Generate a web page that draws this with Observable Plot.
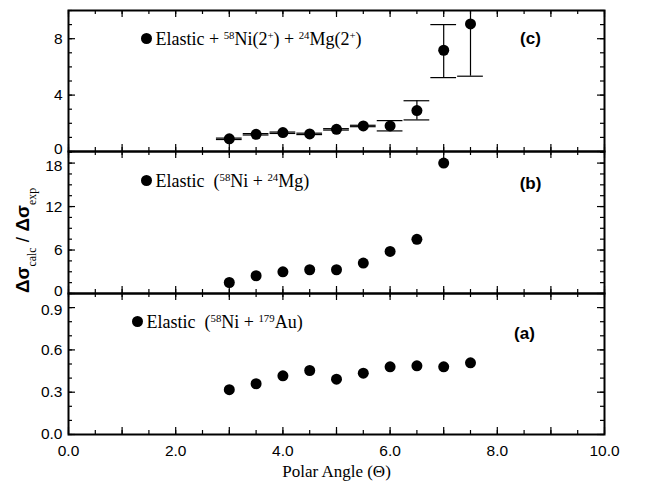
<!DOCTYPE html>
<html>
<head>
<meta charset="utf-8">
<script src="https://cdn.jsdelivr.net/npm/d3@7"></script>
<script src="https://cdn.jsdelivr.net/npm/@observablehq/plot@0.6"></script>
<style>
  html, body { margin: 0; padding: 0; background: #fff; }
  #chart { position: relative; width: 650px; height: 482px; overflow: hidden; }
  #chart svg { position: absolute; left: 0; overflow: visible; }
  .serif-text { font-family: "Liberation Serif", "DejaVu Serif", "Times New Roman", serif !important; }
</style>
</head>
<body>
<div id="chart"></div>
<script>
// ---------- data ----------
const angles = [3.0, 3.5, 4.0, 4.5, 5.0, 5.5, 6.0, 6.5, 7.0, 7.5];
// panel (c): Elastic + 58Ni(2+) + 24Mg(2+)
const ratioC   = [0.90, 1.22, 1.34, 1.25, 1.57, 1.81, 1.81, 2.90, 7.18, 9.05];
const errLowC  = [0.85, 1.17, 1.28, 1.20, 1.52, 1.76, 1.46, 2.24, 5.24, 5.34];
const errHighC = [0.95, 1.27, 1.38, 1.30, 1.62, 1.86, 2.19, 3.60, 9.00, 12.8];
// panel (b): Elastic (58Ni + 24Mg)
const anglesB = [3.0, 3.5, 4.0, 4.5, 5.0, 5.5, 6.0, 6.5, 7.0];
const ratioB  = [1.52, 2.45, 3.00, 3.28, 3.28, 4.20, 5.80, 7.48, 18.0];
// panel (a): Elastic (58Ni + 179Au)
const ratioA  = [0.318, 0.360, 0.416, 0.454, 0.392, 0.435, 0.480, 0.487, 0.480, 0.508];

const xTickLabels = [0, 2, 4, 6, 8, 10];
const yTicksC = [0, 4, 8];
const yTicksB = [0, 6, 12, 18];
const yTicksA = [0, 0.3, 0.6, 0.9];

// ---------- styling ----------
const sans = "Liberation Sans, Arial, Helvetica, sans-serif";
const serif = "Liberation Serif, DejaVu Serif, Times New Roman, serif";
const W = 650, ML = 68, MR = 46, frameW = W - ML - MR;
const capHalf = 0.24;

function tickMarks(frameH, yMinor, yMajor) {
  const xMinor = d3.range(0, 10.001, 0.5);
  const xMajor = d3.range(0, 10.001, 1);
  const sw = 1.2;
  return [
    Plot.tickX(xMinor, {x: d => d, insetTop: frameH - 4, strokeWidth: sw}),
    Plot.tickX(xMinor, {x: d => d, insetBottom: frameH - 4, strokeWidth: sw}),
    Plot.tickX(xMajor, {x: d => d, insetTop: frameH - 7, strokeWidth: sw}),
    Plot.tickX(xMajor, {x: d => d, insetBottom: frameH - 7, strokeWidth: sw}),
    Plot.tickY(yMinor, {y: d => d, insetRight: frameW - 4, strokeWidth: sw}),
    Plot.tickY(yMinor, {y: d => d, insetLeft: frameW - 4, strokeWidth: sw}),
    Plot.tickY(yMajor, {y: d => d, insetRight: frameW - 7, strokeWidth: sw}),
    Plot.tickY(yMajor, {y: d => d, insetLeft: frameW - 7, strokeWidth: sw})
  ];
}

// y tick labels; the extreme labels are nudged apart where two panels meet
function yAxis(ticks, fmt, topShift, zeroShift) {
  const top = ticks[ticks.length - 1];
  const mid = ticks.filter(t => t !== 0 && t !== top);
  const opts = {tickSize: 0, tickPadding: 6, tickFormat: fmt, fontSize: 15.5, fontFamily: sans, label: null};
  return [
    Plot.axisY(mid, opts),
    Plot.axisY([top], {...opts, dy: topShift}),
    Plot.axisY([0], {...opts, dy: zeroShift})
  ];
}

function richify(svg, plain, parts, serifWhole) {
  d3.select(svg).selectAll("text").filter(function () { return this.textContent === plain; }).each(function () {
    const t = d3.select(this);
    if (serifWhole) t.classed("serif-text", true);
    t.text(null);
    parts.forEach(([s, mode, font]) => {
      const ts = t.append("tspan").text(s);
      if (mode === "sup") ts.attr("baseline-shift", "super").style("font-size", "0.6em");
      if (mode === "sub") ts.attr("baseline-shift", "sub").style("font-size", "0.62em");
      if (mode === "bold") ts.style("font-weight", "bold");
      if (font === "serif") ts.classed("serif-text", true);
    });
  });
}

const chart = document.getElementById("chart");

// ---------- panel (c) ----------
const dataC = angles.map((x, i) => ({x, y: ratioC[i], lo: errLowC[i], hi: errHighC[i]}));
const hC = 141;
const legendC = "Elastic + 58Ni(2+) + 24Mg(2+)";
const svgC = Plot.plot({
  width: W, height: 10 + hC + 10,
  marginLeft: ML, marginRight: MR, marginTop: 10, marginBottom: 10,
  x: {domain: [0, 10], axis: null},
  y: {domain: [0, 10], axis: null},
  style: {background: "transparent", overflow: "visible"},
  marks: [
    ...tickMarks(hC, d3.range(0, 10.001, 1), yTicksC),
    ...yAxis(yTicksC, d3.format("d"), 0, -2.5),
    Plot.ruleX(dataC, {x: "x", y1: "lo", y2: "hi", strokeWidth: 1.2, clip: true}),
    Plot.ruleY(dataC, {y: "lo", x1: d => d.x - capHalf, x2: d => d.x + capHalf, strokeWidth: 1.2, clip: true}),
    Plot.ruleY(dataC, {y: "hi", x1: d => d.x - capHalf, x2: d => d.x + capHalf, strokeWidth: 1.2, clip: true}),
    Plot.dot(dataC, {x: "x", y: "y", r: 5.5, fill: "black"}),
    Plot.dot([legendC], {frameAnchor: "top-left", dx: 78, dy: 28, r: 5.5, fill: "black"}),
    Plot.text([legendC], {text: d => d, frameAnchor: "top-left", dx: 87, dy: 29, textAnchor: "start", lineAnchor: "middle", fontSize: 18, fontFamily: serif}),
    Plot.text(["(c)"], {text: d => d, frameAnchor: "top-right", dx: -74, dy: 28, textAnchor: "middle", lineAnchor: "middle", fontSize: 17, fontWeight: "bold", fontFamily: sans}),
    Plot.frame({strokeWidth: 2})
  ]
});
svgC.style.top = "0px";
richify(svgC, legendC, [["Elastic + "], ["58", "sup"], ["Ni(2"], ["+", "sup"], [") + "], ["24", "sup"], ["Mg(2"], ["+", "sup"], [")"]], true);

// ---------- panel (b) ----------
const dataB = anglesB.map((x, i) => ({x, y: ratioB[i]}));
const hB = 142;
const legendB = "Elastic\u2002(58Ni + 24Mg)";
const yTitle = "Δσcalc / Δσexp";
const svgB = Plot.plot({
  width: W, height: 10 + hB + 10,
  marginLeft: ML, marginRight: MR, marginTop: 10, marginBottom: 10,
  x: {domain: [0, 10], axis: null},
  y: {domain: [0, 19.6], axis: null},
  style: {background: "transparent", overflow: "visible"},
  marks: [
    ...tickMarks(hB, d3.range(0, 19.6, 1.5), yTicksB),
    ...yAxis(yTicksB, d3.format("d"), 3, -2),
    Plot.dot(dataB, {x: "x", y: "y", r: 5.5, fill: "black"}),
    Plot.dot([legendB], {frameAnchor: "top-left", dx: 78, dy: 29, r: 5.5, fill: "black"}),
    Plot.text([legendB], {text: d => d, frameAnchor: "top-left", dx: 87, dy: 30, textAnchor: "start", lineAnchor: "middle", fontSize: 18, fontFamily: serif}),
    Plot.text(["(b)"], {text: d => d, frameAnchor: "top-right", dx: -74, dy: 32, textAnchor: "middle", lineAnchor: "middle", fontSize: 17, fontWeight: "bold", fontFamily: sans}),
    Plot.text([yTitle], {text: d => d, frameAnchor: "left", dx: -46, dy: 18, rotate: -90, textAnchor: "middle", lineAnchor: "middle", fontSize: 19, fontFamily: sans}),
    Plot.frame({strokeWidth: 2})
  ]
});
svgB.style.top = "141px";
richify(svgB, legendB, [["Elastic\u2002("], ["58", "sup"], ["Ni + "], ["24", "sup"], ["Mg)"]], true);
richify(svgB, yTitle, [["Δσ", "bold"], ["calc", "sub", "serif"], [" / "], ["Δσ", "bold"], ["exp", "sub", "serif"]], false);

// ---------- panel (a) ----------
const dataA = angles.map((x, i) => ({x, y: ratioA[i]}));
const hA = 141;
const legendA = "Elastic\u2002(58Ni + 179Au)";
const xTitle = "Polar Angle (Θ)";
const svgA = Plot.plot({
  width: W, height: 10 + hA + 48,
  marginLeft: ML, marginRight: MR, marginTop: 10, marginBottom: 48,
  x: {domain: [0, 10], axis: null},
  y: {domain: [0, 1.0], axis: null},
  style: {background: "transparent", overflow: "visible"},
  marks: [
    ...tickMarks(hA, d3.range(0, 1.0001, 0.1), yTicksA),
    ...yAxis(yTicksA, d3.format(".1f"), 2, 0),
    Plot.axisX(xTickLabels, {tickSize: 0, tickPadding: 10, tickFormat: d3.format(".1f"), fontSize: 15.5, fontFamily: sans, label: null}),
    Plot.dot(dataA, {x: "x", y: "y", r: 5.5, fill: "black"}),
    Plot.dot([legendA], {frameAnchor: "top-left", dx: 69, dy: 28, r: 5.5, fill: "black"}),
    Plot.text([legendA], {text: d => d, frameAnchor: "top-left", dx: 78, dy: 29, textAnchor: "start", lineAnchor: "middle", fontSize: 18, fontFamily: serif}),
    Plot.text(["(a)"], {text: d => d, frameAnchor: "top-right", dx: -80, dy: 40, textAnchor: "middle", lineAnchor: "middle", fontSize: 17, fontWeight: "bold", fontFamily: sans}),
    Plot.text([xTitle], {text: d => d, frameAnchor: "bottom", dy: 37, textAnchor: "middle", lineAnchor: "middle", fontSize: 17, fontFamily: serif}),
    Plot.frame({strokeWidth: 2})
  ]
});
svgA.style.top = "283px";
richify(svgA, legendA, [["Elastic\u2002("], ["58", "sup"], ["Ni + "], ["179", "sup"], ["Au)"]], true);
richify(svgA, xTitle, [[xTitle]], true);

chart.appendChild(svgA);
chart.appendChild(svgB);
chart.appendChild(svgC);
</script>
</body>
</html>
